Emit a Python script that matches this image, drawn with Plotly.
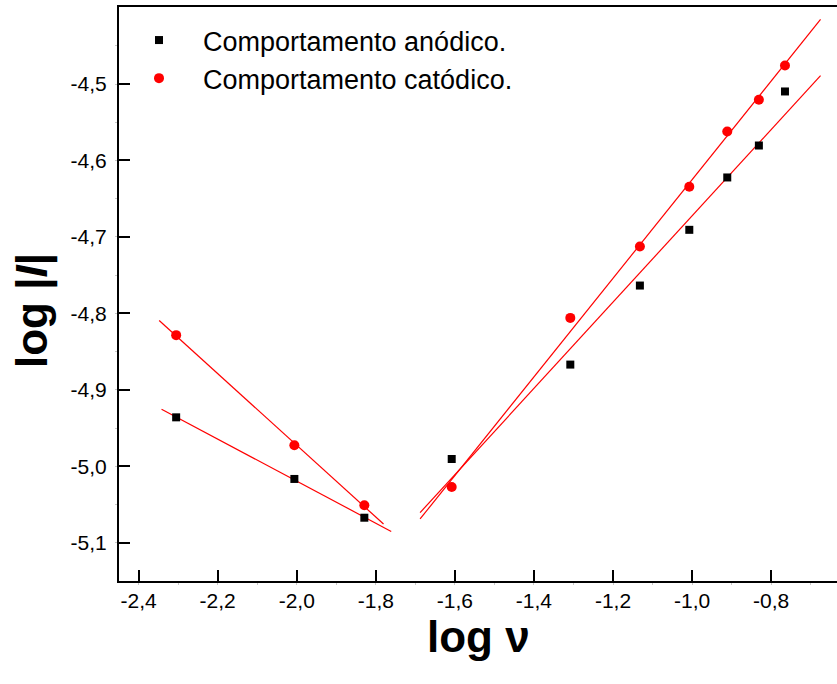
import numpy as np
import plotly.graph_objects as go

# log of scan rate (shared by both branches)
log_v = [-2.305, -2.006, -1.829, -1.608, -1.308, -1.132, -1.007, -0.911, -0.831, -0.765]

# log |I| for the anodic and cathodic peaks
log_i_anodic = [-4.936, -5.0166, -5.0673, -4.9905, -4.867, -4.7636, -4.6907, -4.6222, -4.5804, -4.5097]
log_i_cathodic = [-4.8285, -4.9725, -5.0511, -5.0271, -4.8059, -4.7126, -4.6344, -4.562, -4.5206, -4.4757]

# the two linear regimes: first three points (slow scans) and the remaining seven
low_idx = [0, 1, 2]
high_idx = [3, 4, 5, 6, 7, 8, 9]

# x extents over which each regression line is drawn
fit_span_low_anodic = [-2.342, -1.761]
fit_span_low_cathodic = [-2.348, -1.7805]
fit_span_high = [-1.688, -0.675]

FONT = "Liberation Sans, Arial, sans-serif"
RED = "#ff0000"


def fit_line(idx, ys, span):
    x = np.array([log_v[i] for i in idx])
    y = np.array([ys[i] for i in idx])
    slope, intercept = np.polyfit(x, y, 1)
    xs = np.array(span)
    return xs, slope * xs + intercept


fig = go.Figure()

for idx, ys, span in [
    (low_idx, log_i_anodic, fit_span_low_anodic),
    (low_idx, log_i_cathodic, fit_span_low_cathodic),
    (high_idx, log_i_anodic, fit_span_high),
    (high_idx, log_i_cathodic, fit_span_high),
]:
    fx, fy = fit_line(idx, ys, span)
    fig.add_trace(go.Scatter(x=fx, y=fy, mode="lines",
                             line=dict(color=RED, width=1.2),
                             showlegend=False, hoverinfo="skip"))

fig.add_trace(go.Scatter(x=log_v, y=log_i_anodic, mode="markers",
                         name="Comportamento anódico.",
                         marker=dict(symbol="square", size=8, color="black")))
fig.add_trace(go.Scatter(x=log_v, y=log_i_cathodic, mode="markers",
                         name="Comportamento catódico.",
                         marker=dict(symbol="circle", size=10, color=RED)))

axis_common = dict(
    showgrid=False, zeroline=False,
    showline=True, linecolor="black", linewidth=2,
    ticks="inside", ticklen=11, tickwidth=2, tickcolor="black",
    tickfont=dict(family=FONT, size=21, color="black"),
    minor=dict(ticks="outside", ticklen=2, tickwidth=1, tickcolor="#c8c8c8"),
)

fig.update_xaxes(
    range=[-2.4496, -0.6334],
    tickvals=[-2.4, -2.2, -2.0, -1.8, -1.6, -1.4, -1.2, -1.0, -0.8],
    ticktext=["-2,4", "-2,2", "-2,0", "-1,8", "-1,6", "-1,4", "-1,2", "-1,0", "-0,8"],
    mirror=True, **axis_common,
)
fig.update_yaxes(
    range=[-5.1501, -4.3992],
    tickvals=[-5.1, -5.0, -4.9, -4.8, -4.7, -4.6, -4.5],
    ticktext=["-5,1", "-5,0", "-4,9", "-4,8", "-4,7", "-4,6", "-4,5"],
    ticklabelstandoff=6,
    **axis_common,
)

fig.add_annotation(text="<b>log ν</b>", xref="paper", yref="paper",
                   x=(478 - 119) / 718, y=(581 - 636) / 574,
                   xanchor="center", yanchor="middle", showarrow=False,
                   font=dict(family=FONT, size=44, color="black"))
fig.add_annotation(text="<b>log |<i>I</i>|</b>", xref="paper", yref="paper",
                   x=(32 - 119) / 718, y=(581 - 311) / 574,
                   xanchor="center", yanchor="middle", textangle=-90, showarrow=False,
                   font=dict(family=FONT, size=44, color="black"))

fig.update_layout(
    width=837, height=684,
    margin=dict(l=119, r=0, t=7, b=103),
    paper_bgcolor="white", plot_bgcolor="white",
    font=dict(family=FONT, color="black"),
    showlegend=True,
    legend=dict(x=(115 - 119) / 718, y=(581 - 16) / 574, xanchor="left", yanchor="top",
                bgcolor="rgba(0,0,0,0)", font=dict(family=FONT, size=27, color="black"),
                itemwidth=78, tracegroupgap=0),
)

fig.write_html("out.html")
